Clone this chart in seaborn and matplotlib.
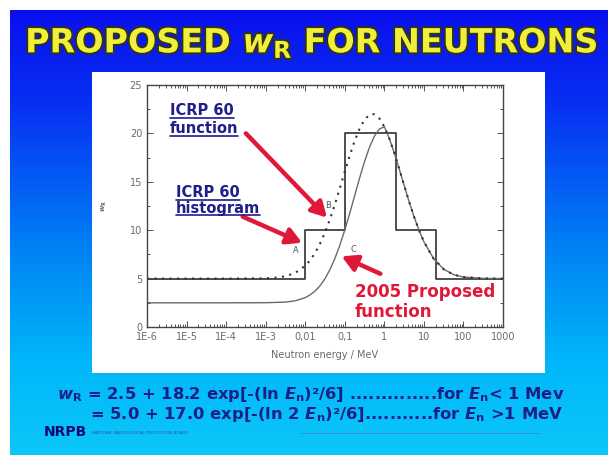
import numpy as np
import pandas as pd
import matplotlib
matplotlib.use("Agg")
import matplotlib.pyplot as plt
import matplotlib.patheffects as pe
from matplotlib.patches import Rectangle
from matplotlib.lines import Line2D
from matplotlib.colors import LinearSegmentedColormap
import seaborn as sns

# ---- data ----
# ICRP 60 histogram (step values, MeV)
hist_energy = [1e-6, 0.01, 0.1, 2, 20, 1000]
hist_wr = [5, 10, 20, 10, 5, 5]

# ICRP 60 continuous function (dotted)
icrp_energy = [1e-6, 1e-5, 1e-4, 1e-3, 10**-2.75, 10**-2.5, 10**-2.25, 0.01, 10**-1.875,
               10**-1.75, 10**-1.625, 10**-1.5, 10**-1.375, 10**-1.25, 10**-1.125, 0.1,
               10**-0.875, 10**-0.75, 10**-0.625, 10**-0.5, 10**-0.375, 0.5, 10**-0.25,
               10**-0.125, 1, 10**0.125, 10**0.25, 10**0.375, 10**0.5, 10**0.625,
               10**0.75, 10**0.875, 10, 10**1.25, 10**1.5, 10**1.75, 100, 10**2.5, 1000]
icrp_wr = [5.0, 5.0, 5.0, 5.03, 5.09, 5.24, 5.59, 6.33, 6.90,
           7.66, 8.61, 9.77, 11.14, 12.67, 14.33, 16.04,
           17.71, 19.23, 20.49, 21.42, 21.92, 22.0, 21.96,
           21.54, 20.69, 19.48, 18.0, 16.35, 14.64, 12.97,
           11.41, 10.01, 8.81, 7.03, 5.97, 5.41, 5.16, 5.02, 5.0]

# 2005 proposed function (thin solid)
new_energy = [1e-6, 1e-5, 1e-4, 1e-3, 10**-2.5, 10**-2.25, 0.01, 10**-1.875, 10**-1.75,
              10**-1.625, 10**-1.5, 10**-1.375, 10**-1.25, 10**-1.125, 0.1, 10**-0.875,
              10**-0.75, 10**-0.625, 10**-0.5, 10**-0.375, 10**-0.25, 10**-0.125, 1,
              10**0.125, 10**0.25, 10**0.375, 10**0.5, 10**0.625, 10**0.75, 10**0.875,
              10, 10**1.25, 10**1.5, 10**1.75, 100, 10**2.5, 1000]
new_wr = [2.5, 2.5, 2.5, 2.51, 2.57, 2.71, 3.03, 3.32, 3.72,
          4.26, 4.99, 5.93, 7.08, 8.45, 10.02, 11.75,
          13.57, 15.39, 17.09, 18.57, 19.72, 20.45, 20.69,
          19.48, 18.0, 16.35, 14.64, 12.97, 11.41, 10.01,
          8.81, 7.03, 5.97, 5.41, 5.16, 5.02, 5.0]

x_ticks = [1e-6, 1e-5, 1e-4, 1e-3, 0.01, 0.1, 1, 10, 100, 1000]
x_labels = ["1E-6", "1E-5", "1E-4", "1E-3", "0,01", "0,1", "1", "10", "100", "1000"]
y_ticks = [0, 5, 10, 15, 20, 25]

eq_lines = [r"$w_\mathrm{R}$ = 2.5 + 18.2 exp[-(ln $E_\mathrm{n}$)²/6] ..............for $E_\mathrm{n}$< 1 Mev",
            r"= 5.0 + 17.0 exp[-(ln 2 $E_\mathrm{n}$)²/6]...........for $E_\mathrm{n}$ >1 MeV"]

hist_df = pd.DataFrame({"energy": hist_energy, "wr": hist_wr})
icrp_df = pd.DataFrame({"energy": icrp_energy, "wr": icrp_wr})
new_df = pd.DataFrame({"energy": new_energy, "wr": new_wr})

sns.set_style("ticks")
plt.rcParams["font.family"] = ["DejaVu Sans"]
plt.rcParams["mathtext.fontset"] = "custom"
plt.rcParams["mathtext.rm"] = "DejaVu Sans:bold"
plt.rcParams["mathtext.it"] = "DejaVu Sans:italic:bold"
plt.rcParams["mathtext.bf"] = "DejaVu Sans:bold"

W, H = 608, 455
fig = plt.figure(figsize=(W / 100, H / 100), dpi=100)
fig.patch.set_facecolor("white")

# slide background gradient
bg = fig.add_axes([10 / W, 0, (W - 10) / W, (H - 10) / H])
cmap = LinearSegmentedColormap.from_list(
    "slide", [(0.0, (0.04, 0.06, 0.93)), (0.2, (0.03, 0.18, 0.95)),
              (0.55, (0.0, 0.52, 0.96)), (0.8, (0.0, 0.72, 0.98)),
              (1.0, (0.05, 0.78, 0.98))])
bg.imshow(np.linspace(0, 1, 256).reshape(-1, 1), aspect="auto", cmap=cmap,
          extent=[0, 1, 0, 1])
bg.set_axis_off()

# white chart panel
fig.patches.append(Rectangle((92 / W, 1 - 373 / H), (545 - 92) / W, (373 - 72) / H,
                             transform=fig.transFigure, facecolor="white",
                             edgecolor="none", zorder=1))

# title
fig.text(0.513, 1 - 43 / H, r"PROPOSED $w_\mathrm{R}$ FOR NEUTRONS", ha="center",
         va="center", fontsize=24, fontweight="bold", color="#f0f03c",
         path_effects=[pe.withStroke(linewidth=2.6, foreground="#34340c")])

ax = fig.add_axes([147 / W, 1 - 327 / H, 356 / W, 242 / H])
ax.set_zorder(2)
ax.set_xscale("log")

line_col = "#404040"
sns.lineplot(data=hist_df, x="energy", y="wr", ax=ax, color=line_col, lw=1.3,
             drawstyle="steps-post", sort=False)
sns.lineplot(data=new_df, x="energy", y="wr", ax=ax, color="#6a6a6a", lw=1.0)
sns.lineplot(data=icrp_df, x="energy", y="wr", ax=ax, color="#333333", lw=1.5,
             linestyle=(0, (1, 2.6)))

ax.set_xlim(1e-6, 1000)
ax.set_ylim(0, 25)
ax.set_xticks(x_ticks)
ax.set_xticklabels(x_labels)
ax.set_yticks(y_ticks)
ax.yaxis.set_minor_locator(matplotlib.ticker.MultipleLocator(2.5))
ax.xaxis.set_minor_locator(matplotlib.ticker.LogLocator(base=10, subs=np.arange(2, 10), numticks=20))
ax.xaxis.set_minor_formatter(matplotlib.ticker.NullFormatter())
ax.tick_params(which="both", direction="in", top=True, right=True, colors="#555555",
               labelsize=7, labelcolor="#6a6a6a", width=0.7)
ax.tick_params(which="major", length=4)
ax.tick_params(which="minor", length=2)
for s in ax.spines.values():
    s.set_color("#444444")
    s.set_linewidth(1.0)
ax.set_xlabel("Neutron energy / MeV", fontsize=7, color="#6a6a6a", labelpad=6)
ax.set_ylabel(r"$w_\mathrm{R}$", fontsize=5, color="#6a6a6a", labelpad=15)

# small point labels
for lbl, ex, wy in [("A", 0.0058, 7.9), ("B", 0.038, 12.6), ("C", 0.17, 8.0)]:
    ax.text(ex, wy, lbl, fontsize=6, color="#555555", ha="center", va="center")

# annotations
red = "#e01838"
navy = "#1e1e8c"
arrow = dict(arrowstyle="-|>,head_length=0.9,head_width=0.5", color=red, lw=3.2,
             shrinkA=0, shrinkB=0)
ax.annotate("", xy=(10**-1.45, 11.3), xytext=(10**-3.5, 20.0), arrowprops=arrow)
ax.annotate("", xy=(10**-2.08, 8.7), xytext=(10**-3.58, 11.4), arrowprops=arrow)
ax.annotate("", xy=(10**-1.08, 7.3), xytext=(10**-0.1, 5.5), arrowprops=arrow)

under = []
for txt, ex, wy in [("ICRP 60", 10**-5.42, 21.9), ("function", 10**-5.42, 20.0),
                    ("ICRP 60", 10**-5.27, 13.4), ("histogram", 10**-5.27, 11.8)]:
    t = ax.text(ex, wy, txt, fontsize=10.5, fontweight="bold", color=navy,
                ha="left", va="baseline")
    under.append(t)
ax.text(10**-0.75, 3.1, "2005 Proposed", fontsize=12, fontweight="bold", color=red,
        ha="left", va="baseline")
ax.text(10**-0.75, 1.0, "function", fontsize=12, fontweight="bold", color=red,
        ha="left", va="baseline")

# equations
eq_col = "#1a1f86"
fig.text(57 / W, 1 - 394 / H, eq_lines[0], fontsize=11.8, fontweight="bold",
         color=eq_col, ha="left", va="center")
fig.text(90 / W, 1 - 414 / H, eq_lines[1], fontsize=11.8, fontweight="bold",
         color=eq_col, ha="left", va="center")

# NRPB footer
fig.text(44 / W, 1 - 432 / H, "NRPB", fontsize=10, fontweight="heavy",
         color="#0c0c70", ha="left", va="center")
fig.text(92 / W, 1 - 433 / H, "NATIONAL RADIOLOGICAL PROTECTION BOARD", fontsize=3,
         color="#3050b0", ha="left", va="center")
fig.add_artist(Line2D([300 / W, 540 / W], [1 - 433 / H, 1 - 433 / H],
                      transform=fig.transFigure, color="#4a80c8", lw=0.5))

# underline the blue labels
fig.canvas.draw()
inv = fig.transFigure.inverted()
for t in under:
    bb = t.get_window_extent()
    (x0, _), (x1, _) = inv.transform([(bb.x0, 0), (bb.x1, 0)])
    _, yb = inv.transform(ax.transData.transform((1, t.get_position()[1])))
    yb -= 2.5 / H
    fig.add_artist(Line2D([x0, x1], [yb, yb], transform=fig.transFigure,
                          color=navy, lw=1.2, zorder=5))

fig.savefig("out.png", dpi=100)
